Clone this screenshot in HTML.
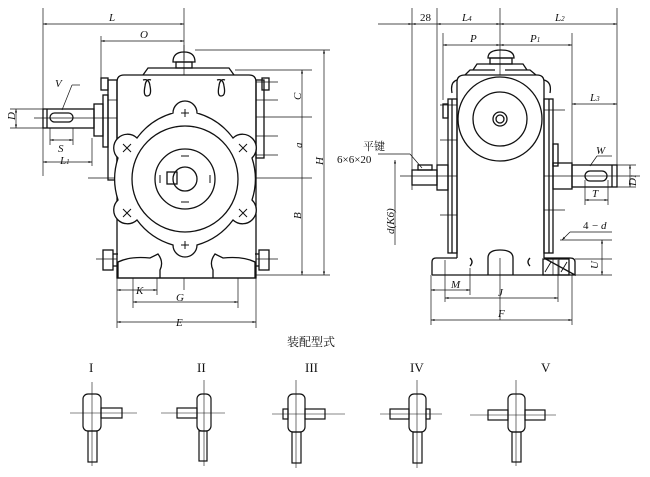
<!DOCTYPE html>
<html><head><meta charset="utf-8"><style>
html,body{margin:0;padding:0;background:#fff;}
svg{display:block;}
text{font-family:"Liberation Serif","Noto Serif CJK SC",serif;font-style:italic;font-size:11px;fill:#111;}
.cn{font-style:normal;font-family:"Liberation Serif","Noto Serif CJK SC",serif;}
</style></head><body>
<svg width="650" height="477" viewBox="0 0 650 477" xmlns="http://www.w3.org/2000/svg">
<defs>
<marker id="a" viewBox="0 0 10 10" refX="10" refY="5" markerWidth="7" markerHeight="5" orient="auto-start-reverse"><path d="M0,2 L10,5 L0,8z" fill="#111"/></marker>
</defs>
<g stroke="#111" fill="none" stroke-width="0.7">
<!-- thin lines / dims left view -->
<line x1="43" y1="8" x2="43" y2="176"/>
<line x1="184" y1="8" x2="184" y2="290"/>
<line x1="43" y1="24" x2="184" y2="24" marker-start="url(#a)" marker-end="url(#a)"/>
<line x1="101" y1="41" x2="184" y2="41" marker-start="url(#a)" marker-end="url(#a)"/>
<line x1="101" y1="36" x2="101" y2="90"/>
<line x1="195" y1="50" x2="330" y2="50"/>
<line x1="235" y1="70" x2="312" y2="70"/>
<line x1="240" y1="117" x2="312" y2="117"/>
<line x1="88" y1="178" x2="312" y2="178"/>
<line x1="255" y1="275" x2="330" y2="275"/>
<line x1="302" y1="70" x2="302" y2="275" marker-start="url(#a)" marker-end="url(#a)"/>
<line x1="302" y1="117" x2="302" y2="117"/>
<line x1="324" y1="50" x2="324" y2="275" marker-start="url(#a)" marker-end="url(#a)"/>
<line x1="10" y1="109" x2="45" y2="109"/><line x1="10" y1="128" x2="45" y2="128"/>
<line x1="16" y1="109" x2="16" y2="128" marker-start="url(#a)" marker-end="url(#a)"/>
<line x1="50" y1="128" x2="50" y2="145"/><line x1="73" y1="128" x2="73" y2="145"/>
<line x1="50" y1="140" x2="73" y2="140" marker-start="url(#a)" marker-end="url(#a)"/>
<line x1="92" y1="138" x2="92" y2="166"/>
<line x1="43" y1="162" x2="92" y2="162" marker-start="url(#a)" marker-end="url(#a)"/>
<line x1="34" y1="118" x2="130" y2="118"/>
<line x1="62" y1="110" x2="72" y2="85"/><line x1="72" y1="85" x2="80" y2="85"/>
<line x1="117" y1="278" x2="117" y2="328"/><line x1="256" y1="270" x2="256" y2="328"/>
<line x1="157" y1="272" x2="157" y2="295"/><line x1="133" y1="255" x2="133" y2="308"/><line x1="238" y1="255" x2="238" y2="308"/>
<line x1="117" y1="290" x2="157" y2="290" marker-start="url(#a)" marker-end="url(#a)"/>
<line x1="133" y1="302" x2="238" y2="302" marker-start="url(#a)" marker-end="url(#a)"/>
<line x1="117" y1="322" x2="256" y2="322" marker-start="url(#a)" marker-end="url(#a)"/>
<line x1="108" y1="100" x2="130" y2="100"/><line x1="245" y1="82" x2="278" y2="82"/><line x1="245" y1="100" x2="278" y2="100"/><line x1="245" y1="136" x2="278" y2="136"/><line x1="245" y1="155" x2="278" y2="155"/>
<line x1="96" y1="259" x2="118" y2="259"/><line x1="256" y1="259" x2="278" y2="259"/>
<line x1="184" y1="45" x2="184" y2="60"/>
<!-- right view dims -->
<line x1="412" y1="8" x2="412" y2="190"/><line x1="437" y1="8" x2="437" y2="165"/><line x1="500" y1="8" x2="500" y2="320"/><line x1="617" y1="8" x2="617" y2="165"/>
<line x1="378" y1="24" x2="412" y2="24" marker-end="url(#a)"/>
<line x1="412" y1="24" x2="437" y2="24" marker-start="url(#a)"/>
<line x1="437" y1="24" x2="500" y2="24" marker-start="url(#a)" marker-end="url(#a)"/>
<line x1="500" y1="24" x2="617" y2="24" marker-start="url(#a)" marker-end="url(#a)"/>
<line x1="443" y1="33" x2="443" y2="100"/><line x1="572" y1="33" x2="572" y2="165"/>
<line x1="443" y1="45" x2="500" y2="45" marker-start="url(#a)" marker-end="url(#a)"/>
<line x1="500" y1="45" x2="572" y2="45" marker-start="url(#a)" marker-end="url(#a)"/>
<line x1="572" y1="104" x2="617" y2="104" marker-start="url(#a)" marker-end="url(#a)"/>
<line x1="610" y1="165" x2="636" y2="165"/><line x1="610" y1="187" x2="636" y2="187"/>
<line x1="630" y1="165" x2="630" y2="187" marker-start="url(#a)" marker-end="url(#a)"/>
<line x1="585" y1="180" x2="585" y2="205"/><line x1="608" y1="180" x2="608" y2="205"/>
<line x1="585" y1="200" x2="608" y2="200" marker-start="url(#a)" marker-end="url(#a)"/>
<line x1="590" y1="166" x2="597" y2="156"/><line x1="597" y1="156" x2="612" y2="156"/>
<line x1="400" y1="176" x2="640" y2="176"/>
<line x1="395" y1="160" x2="395" y2="245" marker-start="url(#a)"/>
<line x1="378" y1="154" x2="410" y2="154"/><line x1="410" y1="154" x2="422" y2="168"/>
<line x1="560" y1="240" x2="612" y2="240"/><line x1="575" y1="275" x2="612" y2="275"/><line x1="575" y1="259" x2="612" y2="259"/>
<line x1="602" y1="240" x2="602" y2="275" marker-start="url(#a)" marker-end="url(#a)"/>
<line x1="570" y1="232" x2="612" y2="232"/><line x1="570" y1="232" x2="562" y2="240" marker-end="url(#a)"/>
<line x1="431" y1="275" x2="431" y2="325"/><line x1="470" y1="268" x2="470" y2="295"/><line x1="445" y1="260" x2="445" y2="302"/><line x1="558" y1="260" x2="558" y2="302"/><line x1="572" y1="275" x2="572" y2="325"/>
<line x1="431" y1="290" x2="470" y2="290" marker-start="url(#a)" marker-end="url(#a)"/>
<line x1="445" y1="298" x2="558" y2="298" marker-start="url(#a)" marker-end="url(#a)"/>
<line x1="431" y1="320" x2="572" y2="320" marker-start="url(#a)" marker-end="url(#a)"/>
<line x1="470" y1="119" x2="536" y2="119"/>
<line x1="440" y1="105" x2="468" y2="105"/><line x1="540" y1="110" x2="565" y2="110"/>
<line x1="440" y1="140" x2="468" y2="140"/><line x1="540" y1="210" x2="565" y2="210"/><line x1="440" y1="215" x2="468" y2="215"/>
</g>

<g stroke="#111" fill="none" stroke-width="1.3">
<!-- left view body -->
<path d="M117,278 L117,82 Q117,75 124,75 L249,75 Q256,75 256,82 L256,278 Z" fill="#fff"/>
<path d="M143,75 L148,68 L229,68 L234,75"/>
<rect x="176" y="62" width="16" height="6"/>
<path d="M173,62 Q173,52 184,52 Q195,52 195,62 Z"/>
<path d="M143,80 Q149,78 150,86 Q152,96 147,96 Q143,96 145,86 Q146,78 151,80"/>
<path d="M217,80 Q223,78 224,86 Q226,96 221,96 Q217,96 219,86 Q220,78 225,80"/>
<rect x="101" y="78" width="7" height="12"/><rect x="262" y="78" width="7" height="12"/>
<rect x="108" y="80" width="9" height="100"/><rect x="256" y="80" width="8" height="78"/>
<rect x="103" y="95" width="5" height="52"/>
<rect x="94" y="104" width="9" height="32"/>
<rect x="43" y="109" width="51" height="19"/>
<line x1="47" y1="109" x2="47" y2="128"/>
<rect x="50" y="113" width="23" height="9" rx="4.5"/>
<!-- flower -->
<path d="M173,113 A12,12 0 0 1 197,113 A68,68 0 0 1 233,138 A12,12 0 0 1 252,158 A68,68 0 0 1 252,200 A12,12 0 0 1 233,220 A68,68 0 0 1 197,245 A12,12 0 0 1 173,245 A68,68 0 0 1 137,220 A12,12 0 0 1 118,200 A68,68 0 0 1 118,158 A12,12 0 0 1 137,138 A68,68 0 0 1 173,113 Z" fill="#fff"/>
<circle cx="185" cy="179" r="53"/>
<circle cx="185" cy="179" r="30"/>
<circle cx="185" cy="179" r="12"/>
<rect x="167" y="172" width="10" height="12"/>
<!-- base -->
<path d="M118,278 L118,262 Q130,256 150,258 L158,254 Q164,262 160,270 L160,278"/>
<path d="M255,278 L255,262 Q243,256 223,258 L215,254 Q209,262 213,270 L213,278"/>
<line x1="117" y1="278" x2="256" y2="278"/>
<rect x="103" y="250" width="10" height="20"/><rect x="259" y="250" width="10" height="20"/>
<line x1="113" y1="254" x2="118" y2="254"/><line x1="113" y1="266" x2="118" y2="266"/>
<line x1="255" y1="254" x2="259" y2="254"/><line x1="255" y1="266" x2="259" y2="266"/>
</g>
<g stroke="#111" stroke-width="1" fill="none">
<path d="M181,113h8M185,109v8M181,245h8M185,241v8M181,156h8M181,202h8M160,175v8M210,175v8M123,144l8,8M131,144l-8,8M239,144l8,8M247,144l-8,8M123,209l8,8M131,209l-8,8M239,209l8,8M247,209l-8,8"/>
<path d="M497,87h8M497,150h8M497,107h8M497,131h8M480,115v8M520,115v8M467,97l6,6M473,97l-6,6M527,97l6,6M533,97l-6,6M467,133l6,6M473,133l-6,6M527,133l6,6M533,133l-6,6"/>
</g>

<!-- right view -->
<g stroke="#111" fill="none" stroke-width="1.3">
<path d="M457,258 L457,82 Q457,75 465,75 L537,75 Q544,75 544,82 L544,258" fill="#fff"/>
<path d="M457,80 Q450,82 452,93 M544,80 Q552,82 550,93 M465,75 L470,70 L495,70 M505,70 L530,70 L536,75"/>
<path d="M473,70 L477,64 L523,64 L527,70"/>
<rect x="490" y="58" width="22" height="6"/>
<path d="M488,58 Q488,50 501,50 Q514,50 514,58 Z"/>
<circle cx="500" cy="119" r="42"/>
<circle cx="500" cy="119" r="27"/>
<circle cx="500" cy="119" r="7"/><circle cx="500" cy="119" r="4"/>
<rect x="448" y="99" width="9" height="154"/><rect x="544" y="99" width="9" height="154"/>
<line x1="452" y1="99" x2="452" y2="253"/><line x1="549" y1="99" x2="549" y2="253"/>
<rect x="443" y="104" width="5" height="14"/><rect x="553" y="144" width="5" height="22"/>
<rect x="437" y="165" width="11" height="25"/>
<rect x="412" y="170" width="25" height="15"/>
<rect x="418" y="165" width="14" height="5"/>
<rect x="553" y="163" width="19" height="26"/>
<rect x="572" y="165" width="45" height="22"/>
<line x1="612" y1="165" x2="612" y2="187"/>
<rect x="585" y="171" width="22" height="10" rx="5"/>
<path d="M432,275 L432,262 Q432,258 436,258 L457,258 M544,258 L570,258 Q575,258 575,262 L575,275 Z M432,275 L575,275"/>
<path d="M488,275 L488,258 Q488,250 500,250 Q513,250 513,258 L513,275"/>
<path d="M470,258 Q474,262 470,266 M530,258 Q526,262 530,266"/>
<rect x="543" y="259" width="26" height="16"/>
<line x1="553" y1="259" x2="553" y2="275" stroke-width="0.7"/><line x1="559" y1="259" x2="559" y2="275" stroke-width="0.7"/>
<path d="M545,272l6,-10M561,272l6,-10" stroke-width="0.9"/>
</g>

<!-- labels -->
<text x="109" y="21">L</text>
<text x="140" y="38">O</text>
<text x="55" y="87">V</text>
<text x="8" y="123" transform="rotate(-90 10 118)">D</text>
<text x="58" y="152">S</text>
<text x="60" y="164">L<tspan font-size="7">1</tspan></text>
<text x="291" y="96" transform="rotate(-90 298 93)">C</text>
<text x="296" y="148" transform="rotate(-90 299 145)">a</text>
<text x="292" y="216" transform="rotate(-90 298 213)">B</text>
<text x="314" y="162" transform="rotate(-90 320 159)">H</text>
<text x="136" y="294">K</text>
<text x="176" y="301">G</text>
<text x="176" y="326">E</text>
<text x="420" y="21" style="font-style:normal">28</text>
<text x="462" y="21">L<tspan font-size="7">4</tspan></text>
<text x="555" y="21">L<tspan font-size="7">2</tspan></text>
<text x="470" y="42">P</text>
<text x="530" y="42">P<tspan font-size="7">1</tspan></text>
<text x="590" y="101">L<tspan font-size="7">3</tspan></text>
<text x="596" y="154">W</text>
<text x="622" y="180" transform="rotate(-90 632 176)">D<tspan font-size="7">1</tspan></text>
<text x="592" y="197">T</text>
<text class="cn" x="363" y="150">平键</text>
<text class="cn" x="337" y="163">6×6×20</text>
<text x="370" y="220" transform="rotate(-90 389 215)">d(K6)</text>
<text x="583" y="229" style="font-style:normal">4</text><text x="592" y="229" style="font-style:normal">−</text><text x="601" y="229">d</text>
<text x="588" y="265" transform="rotate(-90 595 262)">U</text>
<text x="451" y="288">M</text>
<text x="498" y="296">J</text>
<text x="498" y="317">F</text>
<text class="cn" x="287" y="346" style="font-size:12px">装配型式</text>
<g class="cn" style="font-size:13px">
<text class="cn" x="89" y="372" style="font-size:13px">I</text>
<text class="cn" x="197" y="372" style="font-size:13px">II</text>
<text class="cn" x="305" y="372" style="font-size:13px">III</text>
<text class="cn" x="410" y="372" style="font-size:13px">IV</text>
<text class="cn" x="541" y="372" style="font-size:13px">V</text>
</g>

<!-- assembly types -->
<g stroke="#111" fill="none" stroke-width="1.2">
<rect x="83" y="394" width="18" height="37" rx="5"/><rect x="101" y="408" width="21" height="10"/><rect x="88" y="431" width="9" height="31"/>
<rect x="197" y="394" width="14" height="37" rx="5"/><rect x="177" y="408" width="20" height="10"/><rect x="199" y="431" width="8" height="30"/>
<rect x="288" y="394" width="17" height="38" rx="5"/><rect x="283" y="409" width="5" height="10"/><rect x="305" y="409" width="20" height="10"/><rect x="292" y="432" width="9" height="31"/>
<rect x="409" y="394" width="17" height="38" rx="5"/><rect x="390" y="409" width="19" height="10"/><rect x="426" y="409" width="4" height="10"/><rect x="413" y="432" width="9" height="31"/>
<rect x="508" y="394" width="17" height="38" rx="5"/><rect x="488" y="410" width="20" height="10"/><rect x="525" y="410" width="20" height="10"/><rect x="512" y="432" width="9" height="30"/>
</g>
<g stroke="#111" fill="none" stroke-width="0.6">
<line x1="92" y1="382" x2="92" y2="466"/><line x1="70" y1="413" x2="137" y2="413"/>
<line x1="204" y1="380" x2="204" y2="466"/><line x1="161" y1="413" x2="225" y2="413"/>
<line x1="296" y1="380" x2="296" y2="468"/><line x1="272" y1="414" x2="345" y2="414"/>
<line x1="417" y1="380" x2="417" y2="468"/><line x1="380" y1="414" x2="442" y2="414"/>
<line x1="516" y1="380" x2="516" y2="466"/><line x1="470" y1="415" x2="556" y2="415"/>
</g>
</svg>
</body></html>
